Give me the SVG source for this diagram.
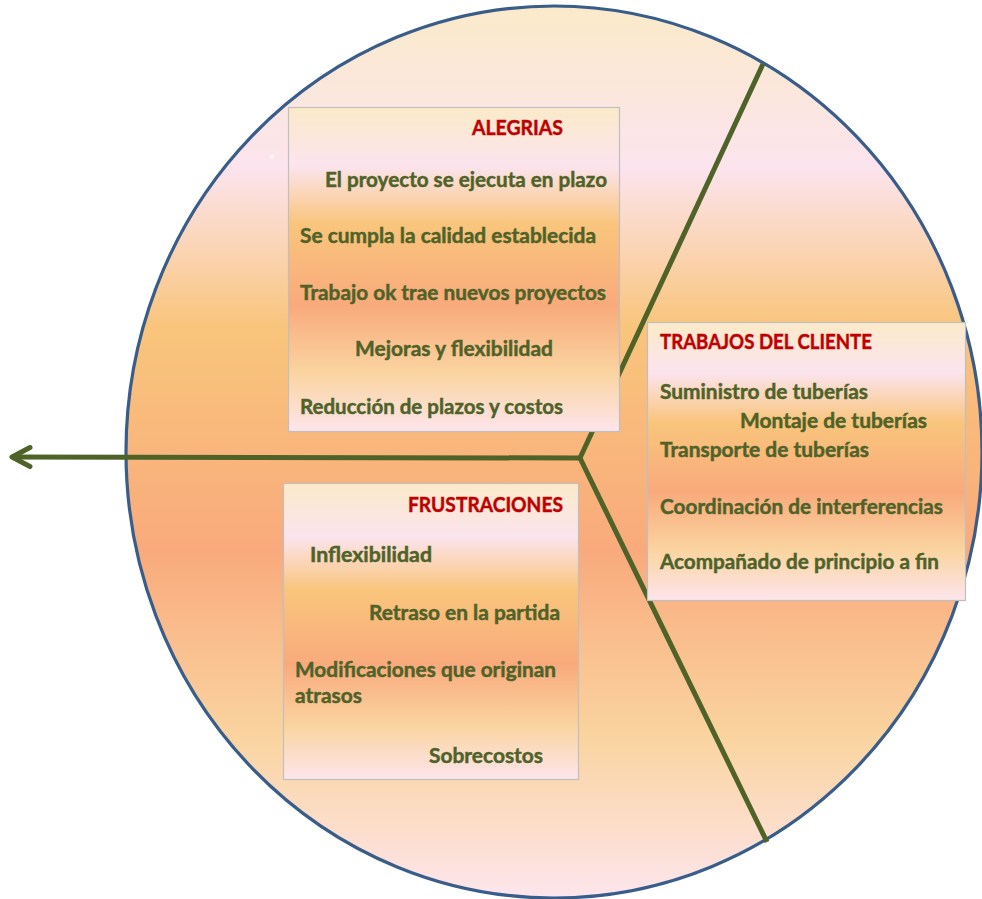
<svg xmlns="http://www.w3.org/2000/svg" width="982" height="899" viewBox="0 0 982 899">
  <defs>
    <!-- vertical "peach" fill shared by the disc and the three boxes -->
    <linearGradient id="peach" x1="0" y1="0" x2="0" y2="1">
      <stop offset="0" stop-color="#FBEAC9"/>
      <stop offset="0.18" stop-color="#FCE4EE"/>
      <stop offset="0.36" stop-color="#F9C57C"/>
      <stop offset="0.61" stop-color="#F9AA7C"/>
      <stop offset="0.82" stop-color="#FAD4A0"/>
      <stop offset="1" stop-color="#FDE5EC"/>
    </linearGradient>
    <marker id="chevron" markerUnits="userSpaceOnUse" viewBox="-24 -14 28 28" markerWidth="28" markerHeight="28" refX="0" refY="0" orient="auto" overflow="visible">
      <polyline points="-18,-9.5 0,0 -18,9.5" fill="none" stroke="#4F6228" stroke-width="5" stroke-linecap="round" stroke-linejoin="round"/>
    </marker>
  </defs>
  <style>
    .disc { fill: url(#peach); stroke: #385D8A; stroke-width: 3.2; }
    .box { fill: url(#peach); stroke: #BFBFBF; stroke-width: 1.2; }
    .conn { fill: none; stroke: #4F6228; stroke-width: 5; stroke-linecap: butt; }
    text { font-family: Lato, "Liberation Sans", sans-serif; font-weight: bold; font-size: 20.5px; stroke-width: 0.45px; }
    .title { fill: #C00000; stroke: #C00000; }
    .item { fill: #4F6228; stroke: #4F6228; }
  </style>

  <rect width="982" height="899" fill="#FFFFFF"/>

  <ellipse class="disc" cx="554" cy="452" rx="428" ry="446"/>

  <!-- small white cross mark -->
  <path d="M269.5,156.5 h5 M272,154 v5" stroke="#FFFFFF" stroke-width="1"/>

  <g id="connectors">
    <path class="conn" d="M580,458 L12,457" marker-end="url(#chevron)"/>
    <path class="conn" d="M580,458 L763,64"/>
    <path class="conn" d="M580,458 L767,842"/>
  </g>

  <g id="alegrias">
    <rect class="box" x="288.5" y="107.5" width="331" height="324"/>
    <text class="title" x="472" y="135" textLength="91" lengthAdjust="spacingAndGlyphs">ALEGRIAS</text>
    <text class="item" x="325" y="187" textLength="282" lengthAdjust="spacingAndGlyphs">El proyecto se ejecuta en plazo</text>
    <text class="item" x="300" y="243" textLength="296" lengthAdjust="spacingAndGlyphs">Se cumpla la calidad establecida</text>
    <text class="item" x="300" y="300" textLength="306" lengthAdjust="spacingAndGlyphs">Trabajo ok trae nuevos proyectos</text>
    <text class="item" x="355" y="356" textLength="198" lengthAdjust="spacingAndGlyphs">Mejoras y flexibilidad</text>
    <text class="item" x="300" y="414" textLength="263" lengthAdjust="spacingAndGlyphs">Reducción de plazos y costos</text>
  </g>

  <g id="trabajos-cliente">
    <rect class="box" x="647.5" y="322.5" width="318" height="278"/>
    <text class="title" x="660" y="349" textLength="212" lengthAdjust="spacingAndGlyphs">TRABAJOS DEL CLIENTE</text>
    <text class="item" x="660" y="399" textLength="208" lengthAdjust="spacingAndGlyphs">Suministro de tuberías</text>
    <text class="item" x="740" y="428" textLength="187" lengthAdjust="spacingAndGlyphs">Montaje de tuberías</text>
    <text class="item" x="660" y="457" textLength="209" lengthAdjust="spacingAndGlyphs">Transporte de tuberías</text>
    <text class="item" x="660" y="514" textLength="283" lengthAdjust="spacingAndGlyphs">Coordinación de interferencias</text>
    <text class="item" x="660" y="569" textLength="279" lengthAdjust="spacingAndGlyphs">Acompañado de principio a fin</text>
  </g>

  <g id="frustraciones">
    <rect class="box" x="283.5" y="483.5" width="295" height="296"/>
    <text class="title" x="408" y="512" textLength="155" lengthAdjust="spacingAndGlyphs">FRUSTRACIONES</text>
    <text class="item" x="310" y="562" textLength="122" lengthAdjust="spacingAndGlyphs">Inflexibilidad</text>
    <text class="item" x="369" y="620" textLength="191" lengthAdjust="spacingAndGlyphs">Retraso en la partida</text>
    <text class="item" x="295" y="677" textLength="261" lengthAdjust="spacingAndGlyphs">Modificaciones que originan</text>
    <text class="item" x="295" y="703" textLength="67" lengthAdjust="spacingAndGlyphs">atrasos</text>
    <text class="item" x="429" y="763" textLength="114" lengthAdjust="spacingAndGlyphs">Sobrecostos</text>
  </g>
</svg>
